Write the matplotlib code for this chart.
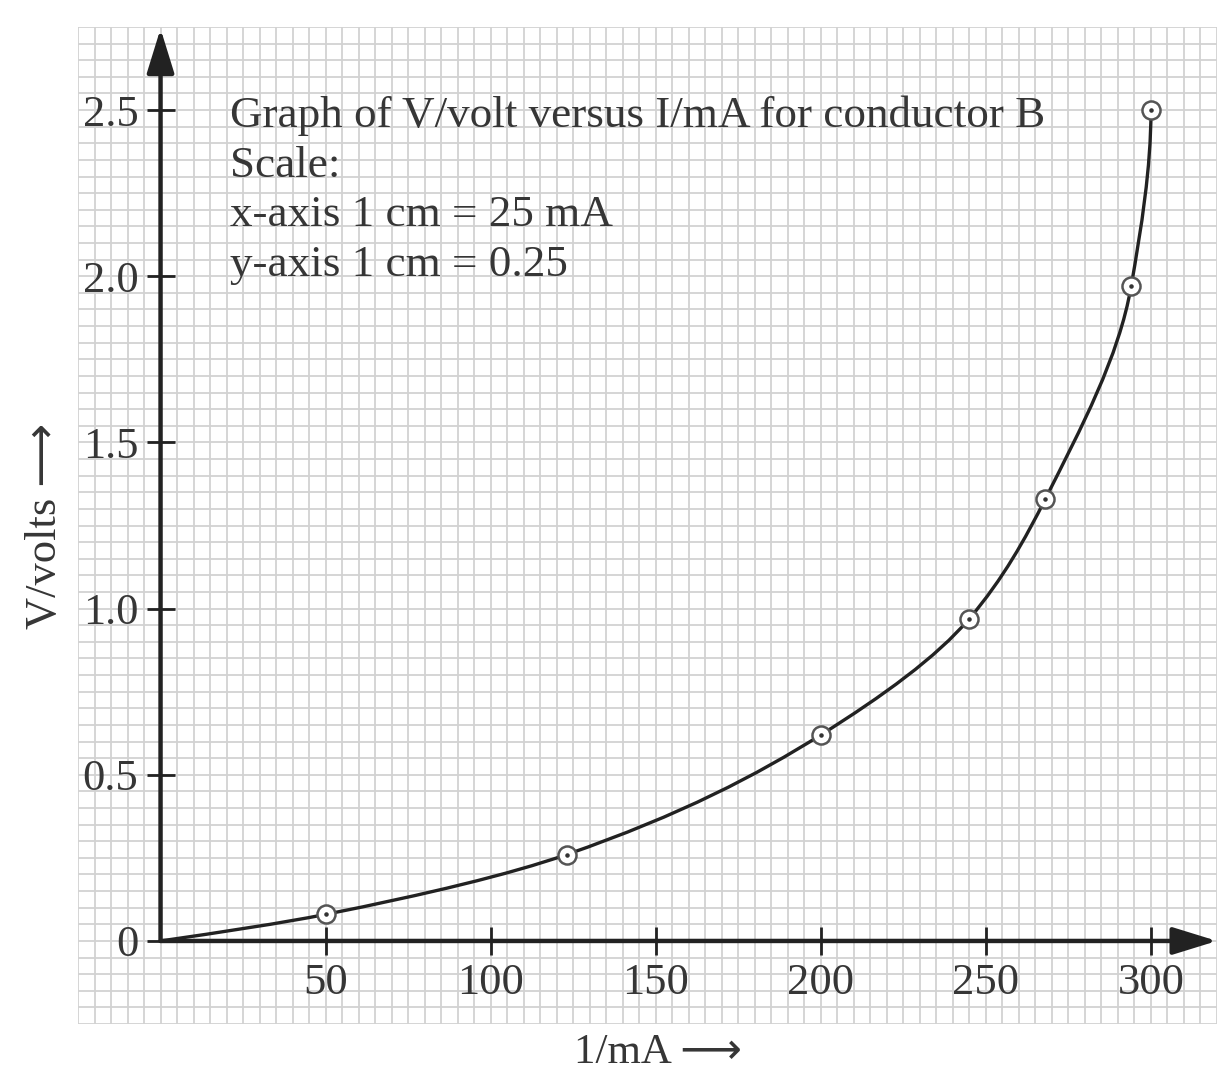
import numpy as np
import matplotlib.pyplot as plt
from matplotlib.path import Path
from matplotlib.patches import PathPatch

# Readings taken off the graph (circled points)
current_mA = [50, 123, 200, 245, 268, 294, 300]
voltage_V = [0.08, 0.26, 0.62, 0.97, 1.33, 1.97, 2.50]

# the drawn curve starts at the origin
curve_I = [0] + current_mA
curve_V = [0.0] + voltage_V

x_ticks = [50, 100, 150, 200, 250, 300]
y_ticks = [0, 0.5, 1.0, 1.5, 2.0, 2.5]
y_ticklabels = ['0', '0.5', '1.0', '1.5', '2.0', '2.5']

notes = ['Graph of V/volt versus I/mA for conductor B',
         'Scale:',
         'x-axis 1 cm = 25 mA',
         'y-axis 1 cm = 0.25']
notes_y = [2.45, 2.30, 2.15, 2.00]

plt.rcParams['font.family'] = ['Liberation Serif', 'DejaVu Sans']

INK = '#222222'
TXT = '#363636'


# smooth monotone curve through the points, drawn as bezier segments
# (current taken as a function of voltage so the top goes vertical)
def smooth_path(xs, ys):
    xi = np.asarray(xs, float)
    v = np.asarray(ys, float)
    h = np.diff(v)
    d = np.diff(xi) / h
    m = np.zeros_like(v)
    for k in range(1, len(v) - 1):
        if d[k - 1] * d[k] > 0:
            w1 = 2 * h[k] + h[k - 1]
            w2 = h[k] + 2 * h[k - 1]
            m[k] = (w1 + w2) / (w1 / d[k - 1] + w2 / d[k])

    def end_slope(h0, h1, d0, d1):
        s = ((2 * h0 + h1) * d0 - h0 * d1) / (h0 + h1)
        if np.sign(s) != np.sign(d0):
            s = 0.0
        elif np.sign(d0) != np.sign(d1) and abs(s) > abs(3 * d0):
            s = 3 * d0
        return s

    m[0] = end_slope(h[0], h[1], d[0], d[1])
    m[-1] = end_slope(h[-1], h[-2], d[-1], d[-2])

    verts = [(xi[0], v[0])]
    codes = [Path.MOVETO]
    for k in range(len(h)):
        verts += [(xi[k] + m[k] * h[k] / 3, v[k] + h[k] / 3),
                  (xi[k + 1] - m[k + 1] * h[k] / 3, v[k + 1] - h[k] / 3),
                  (xi[k + 1], v[k + 1])]
        codes += [Path.CURVE4] * 3
    return Path(verts, codes)


fig = plt.figure(figsize=(12.17, 10.75), dpi=100)
ax = fig.add_axes([0.0641, 0.0474, 0.9359, 0.9275])
ax.set_xlim(-25, 320)
ax.set_ylim(-0.25, 2.75)

# graph paper: 5 mA x 0.05 V squares
ax.vlines(np.arange(-25, 321, 5), -0.25, 2.75, color='#d2d2d2', lw=1.3, zorder=0)
ax.hlines(np.arange(-0.25, 2.751, 0.05), -25, 320, color='#d2d2d2', lw=1.3, zorder=0)

# axes through the origin
for s in ['top', 'right', 'left', 'bottom']:
    ax.spines[s].set_visible(False)
ax.spines['left'].set_position(('data', 0))
ax.spines['bottom'].set_position(('data', 0))
ax.set_xticks(x_ticks)
ax.set_yticks(y_ticks)
ax.set_yticklabels(y_ticklabels)
ax.tick_params(which='major', direction='inout', length=20, width=2,
               color=INK, labelsize=32, labelcolor=TXT, pad=6)

arrow = dict(arrowstyle='-|>,head_length=0.68,head_width=0.21', lw=3.2,
             color=INK, mutation_scale=40, shrinkA=0, shrinkB=0)
ax.annotate('', xy=(320, 0), xytext=(0, 0), annotation_clip=False,
            arrowprops=arrow)
ax.annotate('', xy=(0, 2.745), xytext=(0, 0), annotation_clip=False,
            arrowprops=arrow)

# curve and plotted points
ax.add_patch(PathPatch(smooth_path(curve_I, curve_V), fc='none',
                       ec=INK, lw=2.4, zorder=4))
ax.plot(current_mA, voltage_V, 'o', ms=13, mfc='white', mec='#555555',
        mew=1.8, zorder=5)
ax.plot(current_mA, voltage_V, '.', ms=4.5, color='#333333', zorder=6)

for line, yy in zip(notes, notes_y):
    ax.text(21, yy, line, fontsize=32.5, color=TXT, va='baseline')

fig.text(45 / 1217, 1 - 526 / 1075, 'V/volts \u27f6', rotation=90,
         ha='center', va='center', fontsize=32, color=TXT)
fig.text(658 / 1217, 3 / 1075, '1/mA \u27f6', ha='center',
         va='bottom', fontsize=31, color=TXT)

fig.savefig('out.png', dpi=100, facecolor='white')
